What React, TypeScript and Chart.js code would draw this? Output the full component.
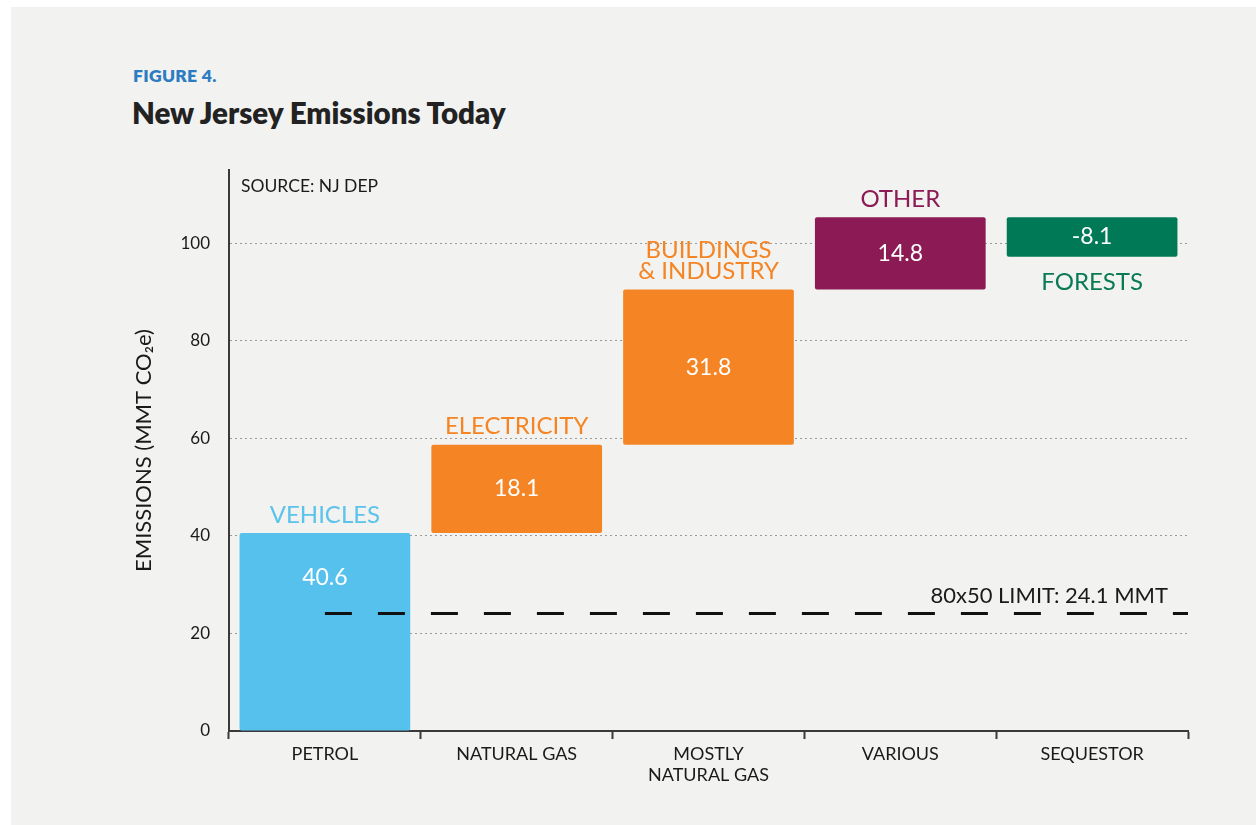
import React, { useEffect, useRef } from "react";
import { Chart, registerables } from "chart.js";

Chart.register(...registerables);

const categories: (string | string[])[] = ["PETROL", "NATURAL GAS", ["MOSTLY", "NATURAL GAS"], "VARIOUS", "SEQUESTOR"];
const sectorLabels: string[][] = [["VEHICLES"], ["ELECTRICITY"], ["BUILDINGS", "& INDUSTRY"], ["OTHER"], ["FORESTS"]];
const values: number[] = [40.6, 18.1, 31.8, 14.8, -8.1];
const barColors: string[] = ["#55c1ec", "#f58524", "#f58524", "#8b1a55", "#007a56"];
const labelColors: string[] = ["#5bc3ec", "#f58524", "#f58524", "#8b1a55", "#0a7a56"];
const yTicks: number[] = [0, 20, 40, 60, 80, 100];
const limitValue = 24.1;
const limitLabel = "80x50 LIMIT: 24.1 MMT";
const sourceLabel = "SOURCE: NJ DEP";

const FONT = "Lato, 'Open Sans', sans-serif";

function buildRanges(vals: number[]): [number, number][] {
  let cum = 0;
  return vals.map((v) => {
    const start = cum;
    cum += v;
    return [start, cum] as [number, number];
  });
}

const annotationsPlugin = {
  id: "waterfallAnnotations",
  afterDatasetsDraw(chart: any) {
    const { ctx, chartArea, scales } = chart;
    const meta = chart.getDatasetMeta(0);
    const y = scales.y;
    const x = scales.x;
    ctx.save();
    const ly = y.getPixelForValue(limitValue);
    const lx0 = x.getPixelForValue(0);
    ctx.strokeStyle = "#111";
    ctx.lineWidth = 3;
    ctx.setLineDash([27, 26]);
    ctx.beginPath();
    ctx.moveTo(lx0, ly);
    ctx.lineTo(chartArea.right, ly);
    ctx.stroke();
    ctx.setLineDash([]);
    ctx.fillStyle = "#1a1a1a";
    ctx.font = `400 22px ${FONT}`;
    ctx.textAlign = "right";
    ctx.textBaseline = "alphabetic";
    ctx.fillText(limitLabel, chartArea.right - 20, ly - 10);

    ctx.font = `400 17.5px ${FONT}`;
    ctx.textAlign = "left";
    ctx.textBaseline = "middle";
    ctx.fillStyle = "#1a1a1a";
    ctx.fillText(sourceLabel, chartArea.left + 12, chartArea.top + 16);

    meta.data.forEach((bar: any, i: number) => {
      const v = values[i];
      const top = Math.min(bar.y, bar.base);
      const bottom = Math.max(bar.y, bar.base);
      ctx.fillStyle = "#ffffff";
      ctx.font = `400 23px ${FONT}`;
      ctx.textAlign = "center";
      ctx.textBaseline = "middle";
      const startsAtZero = i === 0;
      const vy = startsAtZero ? top + 45 : (top + bottom) / 2;
      ctx.fillText(String(v), bar.x, vy);
      ctx.fillStyle = labelColors[i];
      ctx.font = `400 24px ${FONT}`;
      const lines = sectorLabels[i];
      const lh = 21;
      if (v >= 0) {
        lines.forEach((ln, k) => {
          const yy = top - 18 - (lines.length - 1 - k) * lh;
          ctx.fillText(ln, bar.x, yy);
        });
      } else {
        lines.forEach((ln, k) => {
          ctx.fillText(ln, bar.x, bottom + 25 + k * lh);
        });
      }
    });
    ctx.restore();
  },
};

export default function App() {
  const ref = useRef<HTMLCanvasElement | null>(null);
  useEffect(() => {
    if (!ref.current) return;
    const chart = new Chart(ref.current, {
      type: "bar",
      data: {
        labels: categories,
        datasets: [
          {
            data: buildRanges(values) as any,
            backgroundColor: barColors,
            borderRadius: 2,
            borderSkipped: false,
            barPercentage: 0.89,
            categoryPercentage: 1,
          },
        ],
      },
      options: {
        animation: false,
        responsive: false,
        maintainAspectRatio: false,
        layout: { padding: { left: 131, right: 68, top: 170, bottom: 44 } },
        plugins: {
          legend: { display: false },
          tooltip: { enabled: false },
        },
        scales: {
          x: {
            offset: true,
            grid: {
              offset: true,
              drawOnChartArea: false,
              drawTicks: true,
              tickLength: 8,
              tickWidth: 2,
              tickColor: "#3a3a3a",
            },
            border: { color: "#3a3a3a", width: 2 },
            ticks: {
              color: "#1a1a1a",
              font: { family: FONT, size: 18, lineHeight: 1.15 },
              padding: 5,
              maxRotation: 0,
              autoSkip: false,
            },
            afterFit(scale: any) {
              scale.height = 50;
            },
          },
          y: {
            min: 0,
            max: 115,
            afterBuildTicks(scale: any) {
              scale.ticks = yTicks.map((v) => ({ value: v }));
            },
            grid: {
              drawTicks: false,
              color: (c: any) => (c.tick && c.tick.value === 0 ? "rgba(0,0,0,0)" : "#9a9a9a"),
              lineWidth: 1,
            },
            border: { color: "#3a3a3a", width: 2, dash: [2, 3] },
            ticks: {
              color: "#1a1a1a",
              font: { family: FONT, size: 17 },
              padding: 19,
            },
            title: {
              display: true,
              text: "EMISSIONS (MMT CO₂e)",
              color: "#1a1a1a",
              font: { family: FONT, size: 22 },
              padding: 0,
            },
            afterFit(scale: any) {
              scale.width = 98;
            },
          },
        },
      } as any,
      plugins: [annotationsPlugin],
    });
    return () => chart.destroy();
  }, []);

  return (
    <div style={{ position: "fixed", inset: 0, background: "#ffffff" }}>
      <div
        style={{
          position: "absolute",
          left: 11,
          top: 7,
          width: 1245,
          height: 818,
          background: "#f2f2f0",
        }}
      />
      <div
        style={{
          position: "absolute",
          left: 133,
          top: 65,
          fontFamily: FONT,
          fontWeight: 800,
          fontSize: 17.5,
          color: "#2b7cc2",
          letterSpacing: 0.3,
        }}
      >
        FIGURE 4.
      </div>
      <div
        style={{
          position: "absolute",
          left: 132,
          top: 95,
          fontFamily: FONT,
          fontWeight: 800,
          fontSize: 29.5,
          color: "#222222",
        }}
      >
        New Jersey Emissions Today
      </div>
      <canvas
        ref={ref}
        width={1256}
        height={825}
        style={{ position: "absolute", left: 0, top: 0, width: 1256, height: 825 }}
      />
    </div>
  );
}
